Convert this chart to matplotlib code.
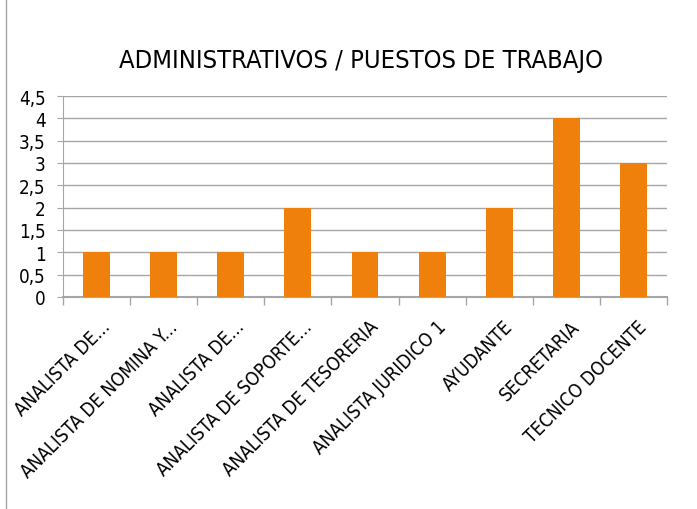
import matplotlib
matplotlib.use("Agg")
import matplotlib.pyplot as plt
import matplotlib.transforms as mtransforms
from matplotlib.lines import Line2D
from matplotlib.ticker import FixedLocator

puestos = ["ANALISTA DE...", "ANALISTA DE NOMINA Y...", "ANALISTA DE...",
           "ANALISTA DE SOPORTE...", "ANALISTA DE TESORERIA", "ANALISTA JURIDICO 1",
           "AYUDANTE", "SECRETARIA", "TECNICO DOCENTE"]
cantidad = [1, 1, 1, 2, 1, 1, 2, 4, 3]
yticks = [0, 0.5, 1, 1.5, 2, 2.5, 3, 3.5, 4, 4.5]

plt.rcParams['font.family'] = ['DejaVu Sans']
plt.rcParams['font.stretch'] = 'condensed'

fig = plt.figure(figsize=(6.97, 5.10), dpi=100)
ax = fig.add_axes([0.0904, 0.4157, 0.8666, 0.3941])

x = range(len(puestos))
ax.bar(x, cantidad, width=0.4, color="#F0800C", zorder=3)

ax.set_xlim(-0.5, len(puestos) - 0.5)
ax.set_ylim(0, 4.5)
ax.set_yticks(yticks)
ax.set_yticklabels([str(v).replace(".", ",").replace(",0", "") for v in yticks],
                   fontsize=13.5, fontstretch='condensed')
ax.yaxis.grid(True, color="#A6A6A6", linewidth=1, zorder=0)
ax.tick_params(axis="y", length=4.5, color="#A6A6A6", pad=8)

ax.set_xticks(list(x))
ax.set_xticklabels(puestos, rotation=45, ha="right", rotation_mode="anchor",
                   fontsize=13.5, fontstretch='condensed')
ax.xaxis.set_minor_locator(FixedLocator([i - 0.5 for i in range(len(puestos) + 1)]))
ax.tick_params(axis="x", which="major", length=0, pad=14)
ax.tick_params(axis="x", which="minor", length=5.5, color="#A6A6A6", width=1)

# desplazar un poco las etiquetas rotadas a la derecha
offset = mtransforms.ScaledTranslation(0.04, 0, fig.dpi_scale_trans)
for lbl in ax.xaxis.get_majorticklabels():
    lbl.set_transform(lbl.get_transform() + offset)

for s in ["top", "right"]:
    ax.spines[s].set_visible(False)
ax.spines["left"].set_color("#A6A6A6")
ax.spines["bottom"].set_color("#A6A6A6")
ax.spines["bottom"].set_linewidth(1.5)

fig.text(0.518, 0.88, "ADMINISTRATIVOS / PUESTOS DE TRABAJO", ha="center", va="center",
         fontsize=18.3, fontstretch='condensed')

fig.add_artist(Line2D([0.009, 0.009], [0, 1], color="#A6A6A6", linewidth=1,
                      transform=fig.transFigure))

fig.savefig("out.png", dpi=100)
